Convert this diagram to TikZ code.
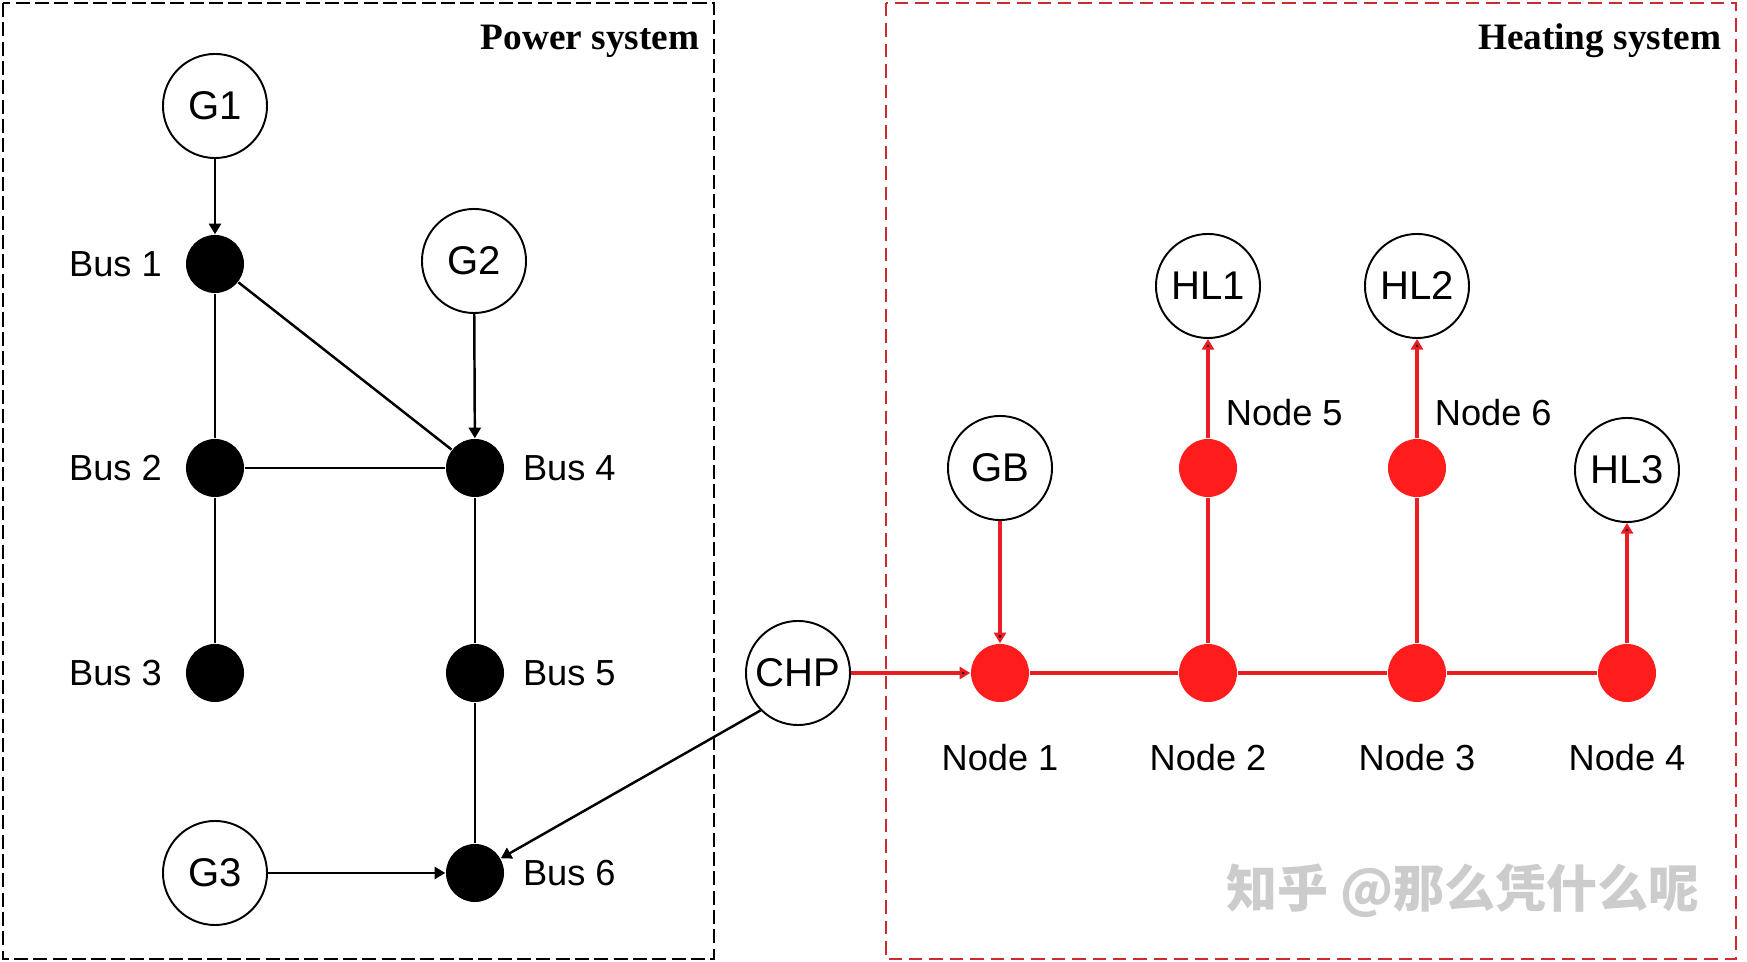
\documentclass[tikz,border=0pt]{standalone}
\usepackage{fontspec}
\setmainfont{Liberation Sans}
\newfontfamily\titlefont{Liberation Serif}
\newfontfamily\cjk{Noto Sans CJK SC}
\usetikzlibrary{positioning,arrows.meta}
\definecolor{heatred}{RGB}{232,30,36}
\definecolor{dotred}{RGB}{255,28,28}
\definecolor{boxred}{RGB}{204,44,48}

\begin{document}
\begin{tikzpicture}[x=0.01cm,y=-0.01cm,>={Triangle[length=3pt,width=3.4pt]}]
        \tikzstyle{unit}=[circle,draw=black,line width=0.55pt,fill=white,minimum size=1.04cm,inner sep=0pt,font=\fontsize{11.4}{13}\selectfont]
        \tikzstyle{bus}=[circle,fill=black,minimum size=0.58cm,inner sep=0pt]
        \tikzstyle{hnode}=[circle,fill=dotred,minimum size=0.58cm,inner sep=0pt]
        \tikzstyle{lbl}=[inner sep=0pt,font=\fontsize{10.3}{12}\selectfont]
        \tikzstyle{title}=[inner sep=0pt,anchor=base east,font=\titlefont\bfseries\fontsize{10.6}{12}\selectfont]
        \tikzstyle{line}=[draw, line width=0.7pt]
        \tikzstyle{pipe}=[draw=heatred, line width=0.9pt]
        \useasboundingbox (0,0) rectangle (1747,962);
        % frames
        \draw[line width=0.55pt,dash pattern=on 4pt off 1.5pt] (3,3) rectangle (714,959);
        \draw[boxred,line width=0.55pt,dash pattern=on 3.8pt off 2pt] (886,3) rectangle (1736,959);
        \node [title] (ptitle) at (700,50) {Power system};
        \node [title] (htitle) at (1722,50) {Heating system};
       \begin{scope}
         \node [unit] (g1) at (215,106) {G1};
         \node [unit] (g2) at (474,261) {G2};
         \node [unit] (g3) at (215,873) {G3};
         \node [bus] (b1) at (215,264) {};
         \node [bus] (b2) at (215,468) {};
         \node [bus] (b3) at (215,673) {};
         \node [bus] (b4) at (475,468) {};
         \node [bus] (b5) at (475,673) {};
         \node [bus] (b6) at (475,873) {};
         \node [lbl, left=6.5pt of b1] (lb1) {Bus 1};
         \node [lbl, left=6.5pt of b2] (lb2) {Bus 2};
         \node [lbl, left=6.5pt of b3] (lb3) {Bus 3};
         \node [lbl, right=5pt of b4] (lb4) {Bus 4};
         \node [lbl, right=5pt of b5] (lb5) {Bus 5};
         \node [lbl, right=5pt of b6] (lb6) {Bus 6};
         \path[line,->] (g1) edge (b1);
         \path[line,->] (g2) edge (b4);
         \path[line,->] (g3) edge (b6);
         \path[line] (b1) edge (b2) edge (b4);
         \path[line] (b2) edge (b4) edge (b3);
         \path[line] (b4) edge (b5);
         \path[line] (b5) edge (b6);
        \end{scope}
        % coupling unit
        \node [unit] (chp) at (798,673) {CHP};
        \draw[line width=0.7pt,->] (chp.south west) -- (b6);
       \begin{scope}
         \node [unit] (gb) at (1000,468) {GB};
         \node [unit] (hl1) at (1208,286) {HL1};
         \node [unit] (hl2) at (1417,286) {HL2};
         \node [unit] (hl3) at (1627,470) {HL3};
         \node [hnode] (n1) at (1000,673) {};
         \node [hnode] (n2) at (1208,673) {};
         \node [hnode] (n3) at (1417,673) {};
         \node [hnode] (n4) at (1627,673) {};
         \node [hnode] (n5) at (1208,468) {};
         \node [hnode] (n6) at (1417,468) {};
         \node [lbl, below=11.5pt of n1] (ln1) {Node 1};
         \node [lbl, below=11.5pt of n2] (ln2) {Node 2};
         \node [lbl, below=11.5pt of n3] (ln3) {Node 3};
         \node [lbl, below=11.5pt of n4] (ln4) {Node 4};
         \node [lbl, above right=5.7pt and -1.1pt of n5] (ln5) {Node 5};
         \node [lbl, above right=5.7pt and -1.1pt of n6] (ln6) {Node 6};
         \path[pipe,->] (chp) edge (n1);
         \path[pipe,->] (gb) edge (n1);
         \path[pipe] (n1) edge (n2);
         \path[pipe] (n2) edge (n3) edge (n5);
         \path[pipe] (n3) edge (n4) edge (n6);
         \path[pipe,->] (n5) edge (hl1);
         \path[pipe,->] (n6) edge (hl2);
         \path[pipe,->] (n4) edge (hl3);
        \end{scope}
        \node [font=\cjk\bfseries\fontsize{14.5}{16}\selectfont, text=gray!40] (mark) at (1463,891) {知乎 @那么凭什么呢};
      \end{tikzpicture}
\end{document}
